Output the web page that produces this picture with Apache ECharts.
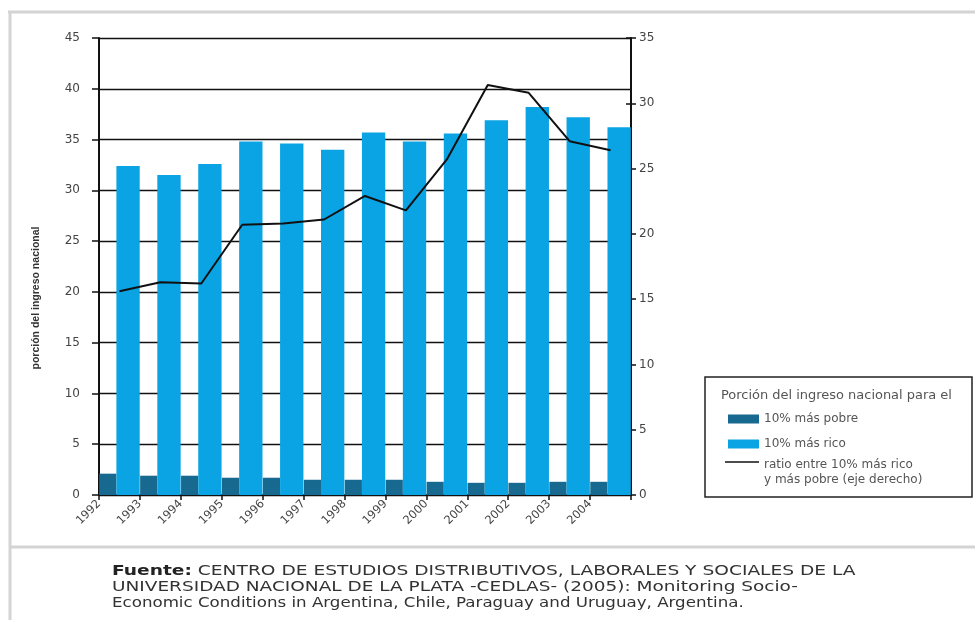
<!DOCTYPE html>
<html>
<head>
<meta charset="utf-8">
<script src="https://cdn.jsdelivr.net/npm/echarts/dist/echarts.min.js"></script>
<style>
html,body{margin:0;padding:0;background:#fff;}
#c{width:975px;height:620px;}
</style>
</head>
<body>
<div id="c"></div>
<script>
const years = ['1992','1993','1994','1995','1996','1997','1998','1999','2000','2001','2002','2003','2004'];
const poorest = [2.1,1.9,1.9,1.7,1.7,1.5,1.5,1.5,1.3,1.2,1.2,1.3,1.3];
const richest = [32.4,31.5,32.6,34.8,34.6,34.0,35.7,34.8,35.6,36.9,38.2,37.2,36.2];
const ratio = [15.6,16.3,16.2,20.7,20.8,21.1,22.9,21.8,25.7,31.4,30.8,27.1,26.4];
const leftAxis = {min:0, max:45, interval:5};
const rightAxis = {min:0, max:35, interval:5};

const namePoor = '10% más pobre';
const nameRich = '10% más rico';
const nameRatio = 'ratio entre 10% más rico y más pobre (eje derecho)';
const ratioLines = ['ratio entre 10% más rico', 'y más pobre (eje derecho)'];
const legendTitle = 'Porción del ingreso nacional para el';
const yName = 'porción del ingreso nacional';
const sourceLines = [
  'CENTRO DE ESTUDIOS DISTRIBUTIVOS, LABORALES Y SOCIALES DE LA',
  'UNIVERSIDAD NACIONAL DE LA PLATA -CEDLAS- (2005): Monitoring Socio-',
  'Economic Conditions in Argentina, Chile, Paraguay and Uruguay, Argentina.'
];

const axisFont = 'DejaVu Sans';
const ink = '#111';

const srcStyle = {fontSize:14, fill:'#333', fontFamily:'DejaVu Sans'};

const chart = echarts.init(document.getElementById('c'), null, {renderer:'canvas'});
chart.setOption({
  backgroundColor:'#fff',
  animation:false,
  grid:{left:99, right:344, top:38, bottom:125, containLabel:false},
  xAxis:[
    {type:'category', data:years, boundaryGap:true, position:'bottom',
     axisLine:{lineStyle:{color:ink, width:2}},
     axisTick:{show:true, length:5, lineStyle:{color:ink, width:1.5}},
     axisLabel:{show:false}, splitLine:{show:false}},
    {type:'category', data:years.concat(['']), boundaryGap:false, position:'bottom',
     axisLine:{show:false}, axisTick:{show:false}, splitLine:{show:false},
     axisLabel:{show:true, interval:0, rotate:45, margin:7, fontSize:11.5, color:'#444', fontFamily:axisFont}}
  ],
  yAxis:[
    {type:'value', position:'left', min:leftAxis.min, max:leftAxis.max, interval:leftAxis.interval,
     axisLine:{show:true, lineStyle:{color:ink, width:2}},
     axisTick:{show:true, length:7, lineStyle:{color:ink, width:1.5}},
     axisLabel:{margin:19, fontSize:12, color:'#444', fontFamily:axisFont},
     splitLine:{show:true, lineStyle:{color:ink, width:1.4}}},
    {type:'value', position:'right', min:rightAxis.min, max:rightAxis.max, interval:rightAxis.interval,
     axisLine:{show:true, lineStyle:{color:ink, width:2}},
     axisTick:{show:true, length:5, lineStyle:{color:ink, width:1.5}},
     axisLabel:{margin:8, fontSize:12, color:'#444', fontFamily:axisFont},
     splitLine:{show:false}},
    {type:'value', position:'right', min:rightAxis.min, max:rightAxis.max, interval:rightAxis.interval,
     axisLine:{show:false},
     axisTick:{show:true, inside:true, length:5, lineStyle:{color:ink, width:1.5}},
     axisLabel:{show:false}, splitLine:{show:false}}
  ],
  legend:[
    {orient:'vertical', left:723, top:408, itemWidth:31, itemHeight:9, itemGap:13,
     data:[{name:namePoor, icon:'rect'},{name:nameRich, icon:'rect'}],
     textStyle:{fontSize:12, color:'#555', fontFamily:axisFont, lineHeight:12},
     selectedMode:false},
    {orient:'vertical', left:720, top:436, itemWidth:34, itemHeight:9,
     data:[{name:nameRatio, icon:'path://M0,0 L40,0 L40,2 L0,2 Z'}],
     formatter:function(){ return '{s| }\n{a|' + ratioLines[0] + '}\n{a|' + ratioLines[1] + '}'; },
     textStyle:{fontSize:12, color:'#555', fontFamily:axisFont,
       rich:{s:{fontSize:12, lineHeight:21}, a:{fontSize:12, lineHeight:15, color:'#555', fontFamily:axisFont}}},
     selectedMode:false}
  ],
  series:[
    {name:namePoor, type:'bar', xAxisIndex:0, yAxisIndex:0, data:poorest, barWidth:'42%', barGap:'0%',
     itemStyle:{color:'#17698f'}},
    {name:nameRich, type:'bar', xAxisIndex:0, yAxisIndex:0, data:richest, barWidth:'57%', barGap:'0%',
     itemStyle:{color:'#0aa3e3'}},
    {name:nameRatio, type:'line', xAxisIndex:0, yAxisIndex:1, data:ratio, symbol:'none', z:5,
     lineStyle:{color:'#111', width:2}, itemStyle:{color:'#111'}}
  ],
  graphic:[
    {type:'line', shape:{x1:8,y1:12,x2:975,y2:12}, style:{stroke:'#d4d4d4', lineWidth:3}, silent:true},
    {type:'line', shape:{x1:10,y1:11,x2:10,y2:620}, style:{stroke:'#d4d4d4', lineWidth:3}, silent:true},
    {type:'line', shape:{x1:10,y1:547,x2:975,y2:547}, style:{stroke:'#d4d4d4', lineWidth:3}, silent:true},
    {type:'rect', shape:{x:705,y:377,width:267,height:120}, style:{fill:'none', stroke:'#222', lineWidth:1.5}, silent:true},
    {type:'text', x:721, y:396, scaleX:1.08, scaleY:1,
     style:{text:legendTitle, fontSize:12, fill:'#555', fontFamily:axisFont, verticalAlign:'middle'}, silent:true},
    {type:'text', x:36, y:298, rotation:Math.PI/2,
     style:{text:yName, fontSize:10.5, fontWeight:'bold', fill:'#333', fontFamily:'Liberation Sans', align:'center', verticalAlign:'middle'}, silent:true},
    {type:'text', x:112, y:571, scaleX:1.33, scaleY:1,
     style:Object.assign({text:'{b|Fuente:} ' + sourceLines[0], verticalAlign:'middle',
       rich:{b:{fontWeight:'bold', fontSize:14, fill:'#222', fontFamily:'DejaVu Sans'}}}, srcStyle), silent:true},
    {type:'text', x:112, y:587, scaleX:1.32, scaleY:1,
     style:Object.assign({text:sourceLines[1], verticalAlign:'middle'}, srcStyle), silent:true},
    {type:'text', x:112, y:603, scaleX:1.19, scaleY:1,
     style:Object.assign({text:sourceLines[2], verticalAlign:'middle'}, srcStyle), silent:true}
  ]
});
</script>
</body>
</html>
